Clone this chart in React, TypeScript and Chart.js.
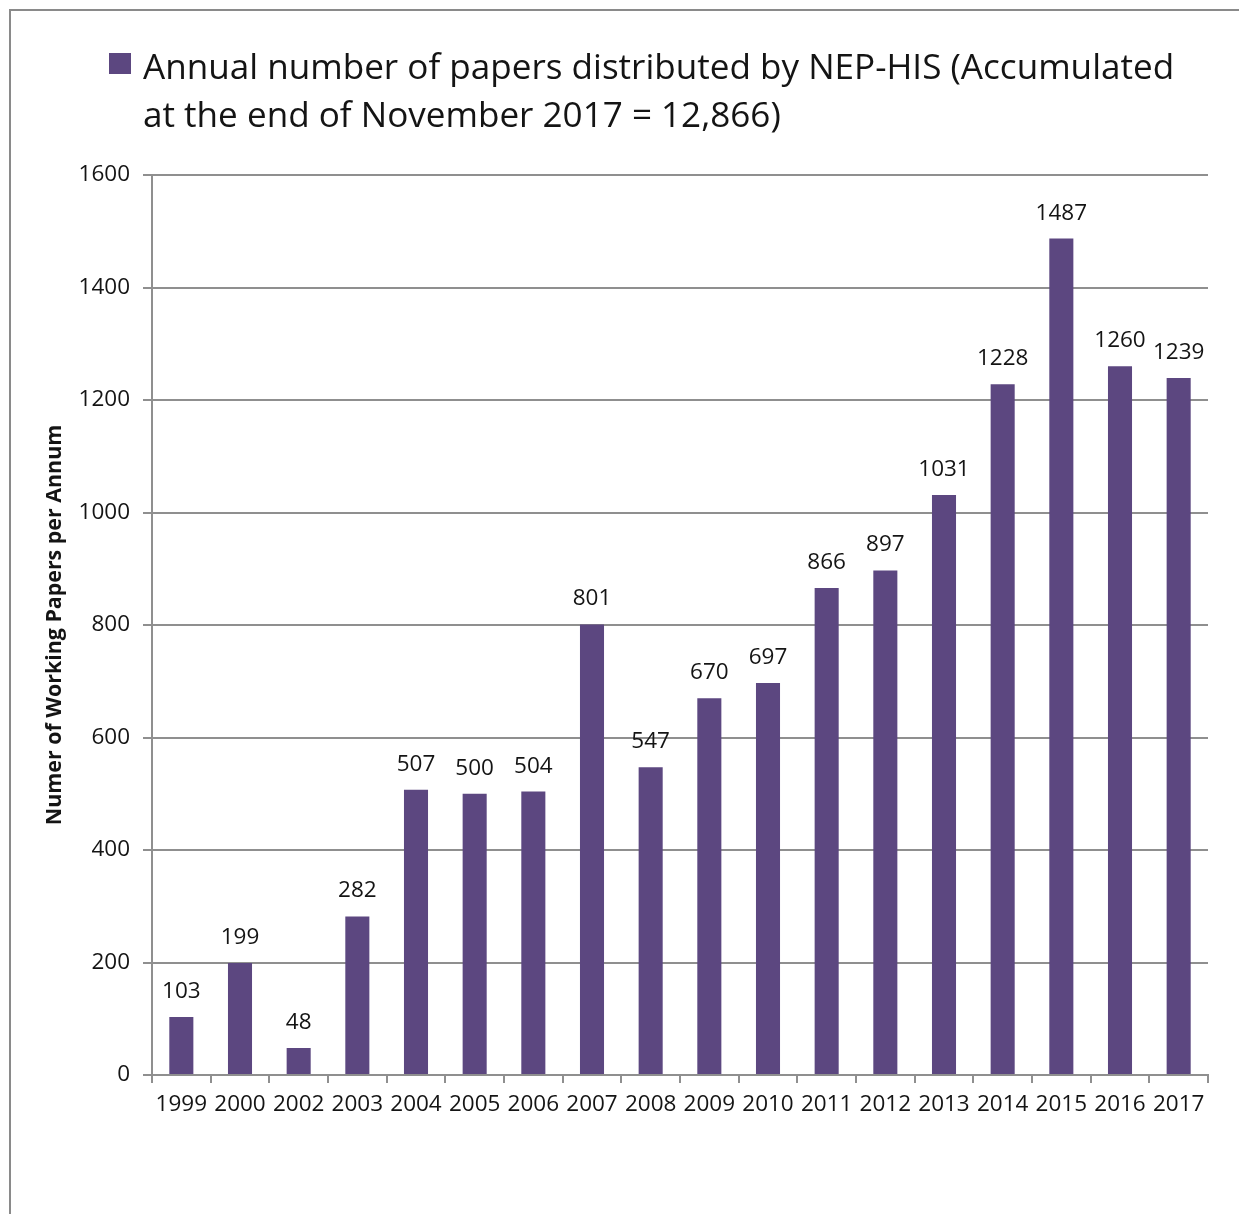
import React, { useEffect, useRef } from "react";
import { Chart, registerables } from "chart.js";

Chart.register(...registerables);

const years = ["1999", "2000", "2002", "2003", "2004", "2005", "2006", "2007", "2008", "2009", "2010", "2011", "2012", "2013", "2014", "2015", "2016", "2017"];
const papers = [103, 199, 48, 282, 507, 500, 504, 801, 547, 670, 697, 866, 897, 1031, 1228, 1487, 1260, 1239];
const legendLines = ["Annual number of papers distributed by NEP-HIS (Accumulated", "at the end of November 2017 = 12,866)"];
const yTitle = "Numer of Working Papers per Annum";

const BAR = "#5c4780";
const TEXT = "#141414";
const GRID = "#8f8f8f";
const FONT = "'Open Sans', 'DejaVu Sans', sans-serif";
const TICK_SIZE = 22.5;

const labelPlugin = {
  id: "barValues",
  afterDatasetsDraw(chart: any) {
    const { ctx } = chart;
    const meta = chart.getDatasetMeta(0);
    ctx.save();
    ctx.font = `${TICK_SIZE}px ${FONT}`;
    ctx.fillStyle = TEXT;
    ctx.textAlign = "center";
    ctx.textBaseline = "alphabetic";
    meta.data.forEach((el: any, i: number) => {
      ctx.fillText(String(papers[i]), el.x, el.y - 19);
    });
    ctx.restore();
  },
};

export default function App() {
  const ref = useRef<HTMLCanvasElement | null>(null);
  useEffect(() => {
    if (!ref.current) return;
    const chart = new Chart(ref.current, {
      type: "bar",
      data: {
        labels: years,
        datasets: [
          {
            label: legendLines.join(" "),
            data: papers,
            backgroundColor: BAR,
            borderWidth: 0,
            barPercentage: 0.41,
            categoryPercentage: 1,
          },
        ],
      },
      options: {
        animation: false,
        responsive: false,
        devicePixelRatio: 1,
        layout: { padding: { top: 167, right: 31, bottom: 0, left: 0 } },
        plugins: {
          legend: { display: false },
          tooltip: { enabled: false },
        },
        scales: {
          x: {
            afterFit: (s: any) => {
              s.height = 139;
            },
            grid: { display: true, drawOnChartArea: false, drawTicks: true, tickLength: 8, color: GRID, lineWidth: 2, offset: true },
            border: { display: true, color: GRID, width: 2 },
            ticks: { color: TEXT, font: { family: FONT, size: TICK_SIZE }, padding: 8, maxRotation: 0, autoSkip: false },
          },
          y: {
            min: 0,
            max: 1600,
            afterFit: (s: any) => {
              s.width = 144;
            },
            grid: { color: GRID, lineWidth: 2, tickLength: 9, drawTicks: true },
            border: { display: true, color: GRID, width: 2 },
            ticks: {
              stepSize: 200,
              color: TEXT,
              font: { family: FONT, size: TICK_SIZE },
              padding: 13,
              callback: (v: any) => String(v),
            },
            title: {
              display: true,
              text: yTitle,
              color: TEXT,
              font: { family: FONT, size: 21.4, weight: "bold" },
              padding: { top: 34, bottom: 0 },
            },
          },
        },
      },
      plugins: [labelPlugin],
    });
    return () => chart.destroy();
  }, []);

  return (
    <div style={{ position: "relative", width: 1231, height: 1206 }}>
      <div
        style={{
          position: "absolute",
          left: 1,
          top: 1,
          width: 1236,
          height: 1211,
          borderTop: "2px solid #8a8a8a",
          borderLeft: "2px solid #8a8a8a",
        }}
      />
      <canvas ref={ref} width={1231} height={1206} style={{ position: "absolute", left: 0, top: 0, width: 1231, height: 1206 }} />
      <div style={{ position: "absolute", left: 101, top: 45, width: 22, height: 21, background: BAR }} />
      <div
        style={{
          position: "absolute",
          left: 135,
          top: 34,
          fontFamily: FONT,
          fontSize: 35.1,
          lineHeight: "47.5px",
          color: TEXT,
          whiteSpace: "nowrap",
        }}
      >
        {legendLines.map((l, i) => (
          <div key={i}>{l}</div>
        ))}
      </div>
    </div>
  );
}
